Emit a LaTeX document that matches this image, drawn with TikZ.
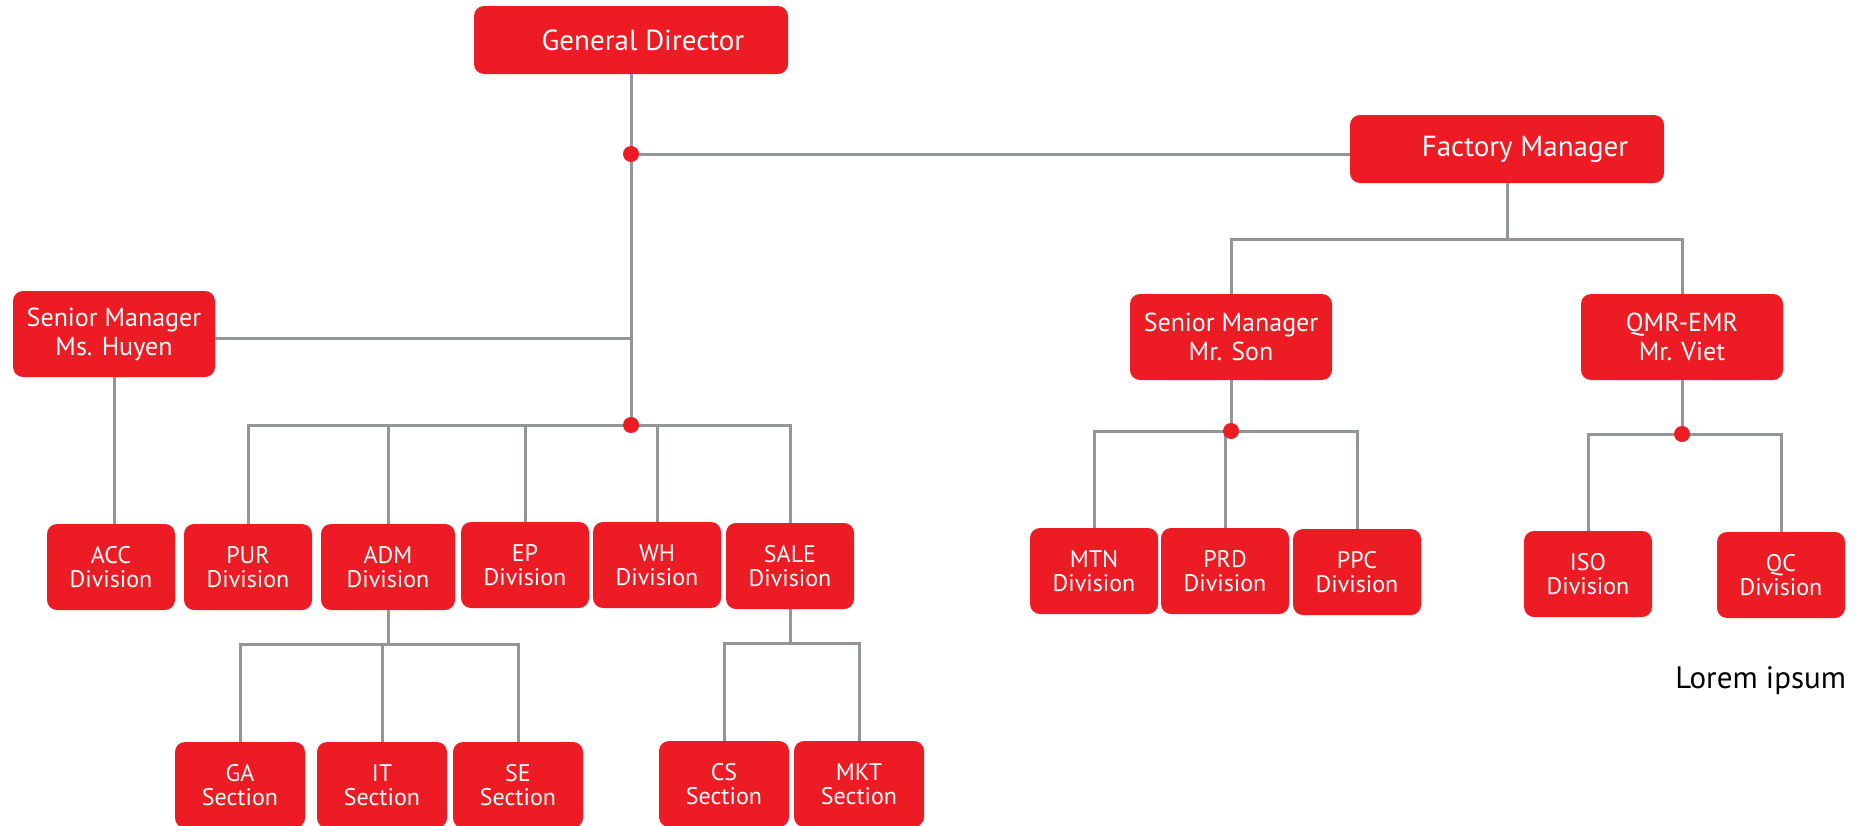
\documentclass[tikz,border=0pt]{standalone}
\usepackage{fontspec}
\setmainfont{PT Sans}
\definecolor{boxred}{HTML}{ED1C24}
\definecolor{linegray}{HTML}{939598}
\begin{document}
\begin{tikzpicture}
  [x=0.5pt,y=-0.5pt,every node/.style={inner sep=0pt}]
  \tikzstyle{box} = [fill=boxred,rounded corners=5pt,text=white,align=center]
  \tikzstyle{headbox} = [box,minimum width=157pt,minimum height=34pt,font=\fontsize{14.5}{16}\selectfont]
  \tikzstyle{mgrbox} = [box,minimum width=101pt,minimum height=43pt,font=\fontsize{13}{14.5}\selectfont]
  \tikzstyle{divbox} = [box,minimum width=64pt,minimum height=43pt,font=\fontsize{12}{12}\selectfont]
  \tikzstyle{secbox} = [divbox,minimum width=65pt]
  \tikzstyle{link} = [draw=linegray,line width=1.5pt]
  \tikzstyle{junction} = [circle,fill=boxred,minimum size=8pt]
  \useasboundingbox (0,0) rectangle (1863,825);

  \node[headbox] (gd) at (631,40) {\hspace*{12pt}General Director};
  \node[headbox] (fm) at (1507,149) {\hspace*{18pt}Factory Manager};
  \node[mgrbox] (smh) at (114,334) {Senior Manager\\Ms. Huyen};
  \node[mgrbox] (sms) at (1231,337) {Senior Manager\\Mr. Son};
  \node[mgrbox] (qmr) at (1682,337) {QMR-EMR\\Mr. Viet};

  \node[divbox] (acc) at (111,567) {ACC\\Division};
  \node[divbox] (pur) at (248,567) {PUR\\Division};
  \node[divbox,minimum width=67pt] (adm) at (388,567) {ADM\\Division};
  \node[divbox] (ep) at (525,565) {EP\\Division};
  \node[divbox] (wh) at (657,565) {WH\\Division};
  \node[divbox] (sale) at (790,566) {SALE\\Division};
  \node[divbox] (mtn) at (1094,571) {MTN\\Division};
  \node[divbox] (prd) at (1225,571) {PRD\\Division};
  \node[divbox] (ppc) at (1357,572) {PPC\\Division};
  \node[divbox] (iso) at (1588,574) {ISO\\Division};
  \node[divbox] (qc) at (1781,575) {QC\\Division};

  \node[secbox] (ga) at (240,785) {GA\\Section};
  \node[secbox] (it) at (382,785) {IT\\Section};
  \node[secbox] (se) at (518,785) {SE\\Section};
  \node[secbox] (cs) at (724,784) {CS\\Section};
  \node[secbox] (mkt) at (859,784) {MKT\\Section};

  \node[anchor=base west,font=\fontsize{15.5}{18}\selectfont] (lorem) at (1675,688) {Lorem ipsum};

  \coordinate (j1) at (631,154);
  \coordinate (j2) at (631,425);
  \coordinate (j3) at (1231,431);
  \coordinate (j4) at (1682,434);
  \coordinate (h1) at (631,338);
  \coordinate (f1) at (1507,239);
  \coordinate (a1) at (388,644);
  \coordinate (s1) at (790,643);

  \draw[link] (gd.south) -- (j2);
  \draw[link] (j1) -- (j1 -| fm.west);
  \draw[link] (h1 -| smh.east) -- (h1);
  \draw[link] (smh.south) -- (smh.south |- acc.north);
  \draw[link] (fm.south) -- (f1);
  \draw[link] (adm.south) -- (a1);
  \draw[link] (sale.south) -- (s1);
  \draw[link] (sms.south) -- (j3);
  \draw[link] (qmr.south) -- (j4);

\foreach \source/\dest in {j2/pur,j2/adm,j2/ep,j2/wh,j2/sale,a1/ga,a1/it,a1/se,s1/cs,s1/mkt}
   \draw[link] (\source) -| (\dest.north);
\foreach \source/\dest in {f1/sms,f1/qmr,j3/mtn,j3/prd,j3/ppc,j4/iso,j4/qc}
   \draw[link] (\source) -| (\dest.north);

\foreach \j in {j1,j2,j3,j4}
   \node[junction] (d\j) at (\j) {};

\end{tikzpicture}
\end{document}
